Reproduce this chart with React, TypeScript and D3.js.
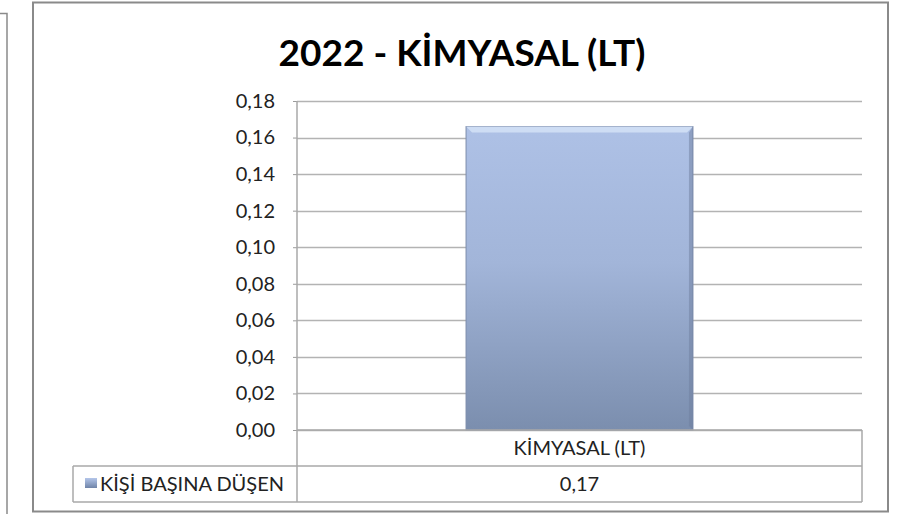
import * as d3 from 'd3';
import { useEffect, useRef } from 'react';

const title = '2022 - KİMYASAL (LT)';
const categories = ['KİMYASAL (LT)'];
const seriesName = 'KİŞİ BAŞINA DÜŞEN';
const values = [0.166];
const yTicks = [0, 0.02, 0.04, 0.06, 0.08, 0.1, 0.12, 0.14, 0.16, 0.18];

const W = 922;
const H = 514;
const FONT = 'Lato, "Open Sans", sans-serif';

export default function App() {
  const ref = useRef<SVGSVGElement>(null);

  useEffect(() => {
    const svg = d3.select(ref.current);
    svg.selectAll('*').remove();

    const margin = { top: 101, left: 297, right: 60, bottom: 84 };
    const plotW = W - margin.left - margin.right;
    const plotH = H - margin.top - margin.bottom;
    const rowH = 36;
    const fmt = (v: number) => d3.format('.2f')(v).replace('.', ',');

    const defs = svg.append('defs');
    const grad = defs.append('linearGradient')
      .attr('id', 'barGrad')
      .attr('x1', 0).attr('y1', 0).attr('x2', 0).attr('y2', 1);
    grad.append('stop').attr('offset', '0%').attr('stop-color', '#aec1e6');
    grad.append('stop').attr('offset', '45%').attr('stop-color', '#a2b5d9');
    grad.append('stop').attr('offset', '100%').attr('stop-color', '#7b8eae');
    const mk = defs.append('linearGradient')
      .attr('id', 'mkGrad')
      .attr('x1', 0).attr('y1', 0).attr('x2', 0).attr('y2', 1);
    mk.append('stop').attr('offset', '0%').attr('stop-color', '#b4c6ea');
    mk.append('stop').attr('offset', '100%').attr('stop-color', '#6f84a8');

    svg.append('rect').attr('width', W).attr('height', H).attr('fill', '#fff');

    // neighbouring frame on the left, and the chart frame
    svg.append('path')
      .attr('d', `M0,13.5 H7 V${H}`)
      .attr('fill', 'none').attr('stroke', '#8a8a8a').attr('stroke-width', 1.5);
    svg.append('rect')
      .attr('x', 33).attr('y', 2.5).attr('width', 855).attr('height', 509)
      .attr('fill', '#fff').attr('stroke', '#8a8a8a').attr('stroke-width', 2);

    svg.append('text')
      .attr('x', 462).attr('y', 66)
      .attr('text-anchor', 'middle')
      .attr('font-family', FONT)
      .attr('font-weight', 'bold')
      .attr('font-size', 37)
      .attr('fill', '#000')
      .text(title);

    const chart = svg.append('g').attr('transform', `translate(${margin.left},${margin.top})`);

    const x = d3.scaleBand().domain(categories).range([0, plotW]).paddingInner(0).paddingOuter(0.745);
    const y = d3.scaleLinear().domain([0, 0.18]).range([plotH, 0]);

    // gridlines
    chart.selectAll('line.grid')
      .data(yTicks)
      .enter()
      .append('line')
      .attr('class', 'grid')
      .attr('x1', 0).attr('x2', plotW)
      .attr('y1', (d) => Math.round(y(d)) + 0.5)
      .attr('y2', (d) => Math.round(y(d)) + 0.5)
      .attr('stroke', '#b3b3b3').attr('stroke-width', 1.5);

    // y axis
    const yAxis = chart.append('g')
      .call(d3.axisLeft(y).tickValues(yTicks).tickSize(4).tickPadding(18).tickFormat((d) => fmt(d as number)));
    yAxis.select('.domain').remove();
    yAxis.selectAll('line').attr('stroke', '#9a9a9a');
    yAxis.selectAll('text')
      .attr('font-family', FONT)
      .attr('font-size', 20)
      .attr('fill', '#222');

    // bars
    const bar = chart.selectAll('g.bar')
      .data(values)
      .enter()
      .append('g')
      .attr('class', 'bar');
    bar.append('rect')
      .attr('x', (_d, i) => x(categories[i])!)
      .attr('y', (d) => y(d))
      .attr('width', x.bandwidth())
      .attr('height', (d) => plotH - y(d))
      .attr('fill', 'url(#barGrad)')
      .attr('stroke', '#7c8cab').attr('stroke-width', 1);
    // bevel highlight on top
    bar.append('path')
      .attr('d', (d, i) => {
        const x0 = x(categories[i])!;
        const x1 = x0 + x.bandwidth();
        const t = y(d);
        return `M${x0},${t} L${x1},${t} L${x1 - 6},${t + 6} L${x0 + 6},${t + 6} Z`;
      })
      .attr('fill', '#d6e3f7').attr('opacity', 0.8);
    bar.append('path')
      .attr('d', (d, i) => {
        const x0 = x(categories[i])!;
        const x1 = x0 + x.bandwidth();
        const t = y(d);
        return `M${x1},${t} L${x1},${plotH} L${x1 - 4},${plotH - 4} L${x1 - 4},${t + 6} Z`;
      })
      .attr('fill', '#6d7e9d').attr('opacity', 0.5);

    // data table
    const g = svg.append('g').attr('font-family', FONT).attr('fill', '#222');
    const top = margin.top + plotH;
    const tableLeft = 73;
    const stroke = '#a8a8a8';
    g.append('line')
      .attr('x1', margin.left).attr('x2', margin.left)
      .attr('y1', margin.top).attr('y2', top + 2 * rowH)
      .attr('stroke', stroke).attr('stroke-width', 1.5);
    g.append('line')
      .attr('x1', margin.left + plotW).attr('x2', margin.left + plotW)
      .attr('y1', top).attr('y2', top + 2 * rowH)
      .attr('stroke', stroke).attr('stroke-width', 1.5);
    g.append('line')
      .attr('x1', margin.left).attr('x2', margin.left + plotW)
      .attr('y1', top).attr('y2', top)
      .attr('stroke', stroke).attr('stroke-width', 1.5);
    g.append('line')
      .attr('x1', tableLeft).attr('x2', margin.left + plotW)
      .attr('y1', top + rowH).attr('y2', top + rowH)
      .attr('stroke', stroke).attr('stroke-width', 1.5);
    g.append('line')
      .attr('x1', tableLeft).attr('x2', margin.left + plotW)
      .attr('y1', top + 2 * rowH).attr('y2', top + 2 * rowH)
      .attr('stroke', stroke).attr('stroke-width', 1.5);
    g.append('line')
      .attr('x1', tableLeft).attr('x2', tableLeft)
      .attr('y1', top + rowH).attr('y2', top + 2 * rowH)
      .attr('stroke', stroke).attr('stroke-width', 1.5);

    categories.forEach((c, i) => {
      const cx = margin.left + x(c)! + x.bandwidth() / 2;
      g.append('text')
        .attr('x', cx).attr('y', top + rowH / 2 + 7)
        .attr('text-anchor', 'middle').attr('font-size', 20)
        .text(c);
      g.append('text')
        .attr('x', cx).attr('y', top + rowH * 1.5 + 7)
        .attr('text-anchor', 'middle').attr('font-size', 20)
        .text(fmt(values[i]));
    });

    g.append('rect')
      .attr('x', 85).attr('y', top + rowH * 1.5 - 6)
      .attr('width', 12).attr('height', 10)
      .attr('fill', 'url(#mkGrad)');
    g.append('text')
      .attr('x', 100).attr('y', top + rowH * 1.5 + 7)
      .attr('font-size', 20)
      .text(seriesName);
  }, []);

  return (
    <svg
      ref={ref}
      width={W}
      height={H}
      style={{ position: 'absolute', left: 0, top: 0, display: 'block' }}
    />
  );
}
